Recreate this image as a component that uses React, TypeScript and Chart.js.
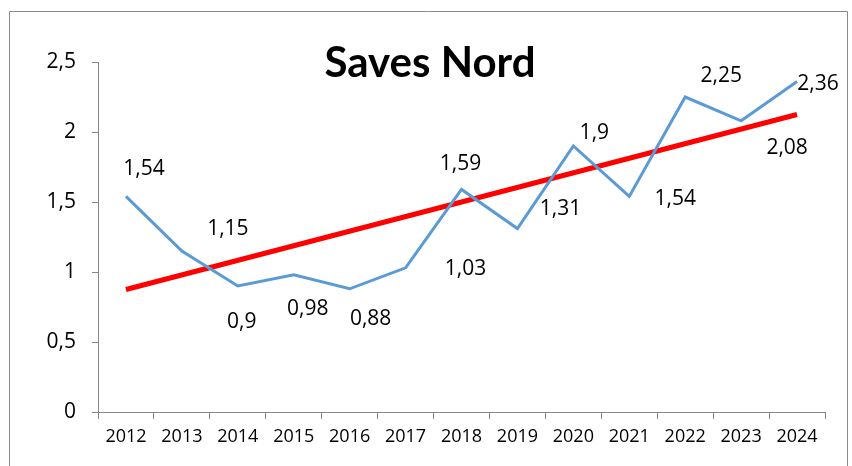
import React, { useEffect, useRef } from "react";
import { Chart, registerables } from "chart.js";

Chart.register(...registerables);

const years = ["2012", "2013", "2014", "2015", "2016", "2017", "2018", "2019", "2020", "2021", "2022", "2023", "2024"];
const savesValues = [1.54, 1.15, 0.9, 0.98, 0.88, 1.03, 1.59, 1.31, 1.9, 1.54, 2.25, 2.08, 2.36];
// Linear trend line: start (2012) and end (2024)
const trendValues: (number | null)[] = [0.875, null, null, null, null, null, null, null, null, null, null, null, 2.125];
const yTickValues = [0, 0.5, 1, 1.5, 2, 2.5];
const titleText = "Saves Nord";

// label placement (style): offset of label centre from its point, px
const labelOffsets: [number, number][] = [
  [18, -29], [46, -24], [4, 34], [14, 33], [21, 29], [60, 0], [-1, -27],
  [43, -21], [21, -15], [46, 1], [36, -23], [46, 26], [21, 1],
];

const fmt = (v: number) => String(v).replace(".", ",");

const decorPlugin = {
  id: "decor",
  beforeDraw(chart: any) {
    const ctx = chart.ctx;
    ctx.save();
    ctx.fillStyle = "#ffffff";
    ctx.fillRect(0, 0, chart.width, chart.height);
    ctx.strokeStyle = "#8a8a8a";
    ctx.lineWidth = 1;
    ctx.beginPath();
    ctx.moveTo(9.5, chart.height + 5);
    ctx.lineTo(9.5, 11.5);
    ctx.lineTo(847.5, 11.5);
    ctx.lineTo(847.5, chart.height + 5);
    ctx.stroke();
    ctx.restore();
  },
  afterDatasetsDraw(chart: any) {
    const ctx = chart.ctx;
    ctx.save();
    const meta = chart.getDatasetMeta(0);
    ctx.fillStyle = "#000000";
    ctx.font = '21px "Open Sans"';
    ctx.textAlign = "center";
    ctx.textBaseline = "alphabetic";
    meta.data.forEach((pt: any, i: number) => {
      const [dx, dy] = labelOffsets[i];
      ctx.fillText(fmt(savesValues[i]), pt.x + dx, pt.y + dy + 7.5);
    });
    ctx.font = 'bold 42px "Lato"';
    ctx.fillText(titleText, 430, 77);
    ctx.restore();
  },
};

export default function App() {
  const ref = useRef<HTMLCanvasElement | null>(null);
  useEffect(() => {
    if (!ref.current) return;
    const chart = new Chart(ref.current, {
      type: "line",
      data: {
        labels: years,
        datasets: [
          {
            label: "Saves Nord",
            data: savesValues,
            borderColor: "#5B9BD5",
            borderWidth: 3,
            pointRadius: 0,
            tension: 0,
            fill: false,
          },
          {
            label: "Trend",
            data: trendValues,
            borderColor: "#FF0000",
            borderWidth: 5,
            pointRadius: 0,
            spanGaps: true,
            fill: false,
          },
        ],
      },
      options: {
        responsive: false,
        animation: false,
        devicePixelRatio: 1,
        layout: { padding: { left: 0, top: 62, right: 27, bottom: 0 } },
        plugins: {
          legend: { display: false },
          title: { display: false },
          tooltip: { enabled: false },
        },
        scales: {
          x: {
            type: "category",
            offset: true,
            grid: {
              offset: true,
              drawOnChartArea: false,
              drawTicks: true,
              tickLength: 7,
              color: "#868686",
            },
            border: { color: "#868686" },
            ticks: {
              color: "#000000",
              font: { family: "Open Sans", size: 18 },
              padding: 7,
              maxRotation: 0,
              autoSkip: false,
            },
            afterFit(scale: any) {
              scale.height = 54;
            },
          },
          y: {
            min: 0,
            max: 2.5,
            afterBuildTicks(scale: any) {
              scale.ticks = yTickValues.map((v) => ({ value: v }));
            },
            grid: {
              drawOnChartArea: false,
              drawTicks: true,
              tickLength: 6,
              color: "#868686",
            },
            border: { color: "#868686" },
            ticks: {
              color: "#000000",
              font: { family: "Open Sans", size: 21 },
              padding: 16,
              callback: (v: any) => fmt(Number(v)),
            },
            afterFit(scale: any) {
              scale.width = 98;
            },
          },
        },
      },
      plugins: [decorPlugin],
    });
    return () => chart.destroy();
  }, []);
  return (
    <div style={{ position: "fixed", left: 0, top: 0, width: 852, height: 466, background: "#fff" }}>
      <canvas ref={ref} width={852} height={466} style={{ display: "block" }} />
    </div>
  );
}
